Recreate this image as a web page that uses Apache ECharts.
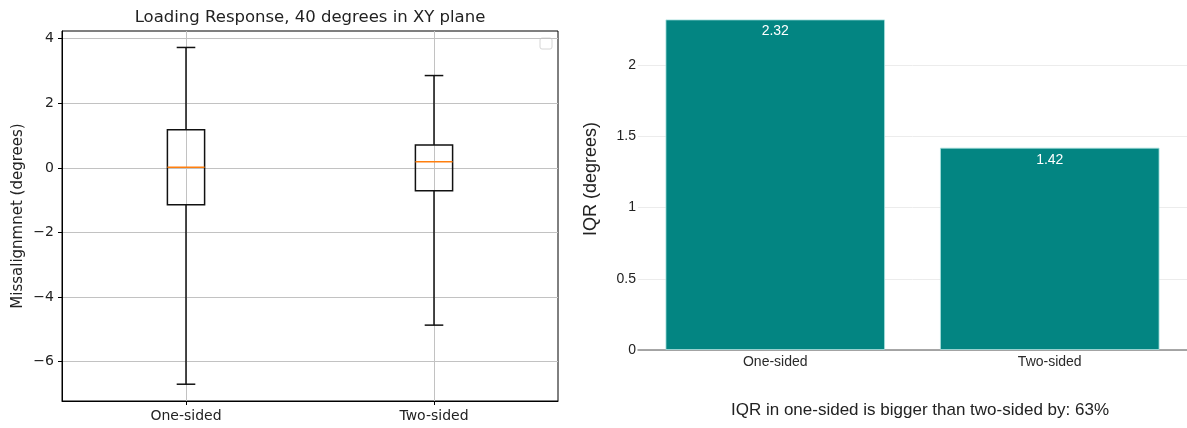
<!DOCTYPE html>
<html>
<head>
<meta charset="utf-8">
<style>
  html, body { margin: 0; padding: 0; background: #fff; }
  #chart { width: 1187px; height: 428px; }
</style>
<script src="https://cdn.jsdelivr.net/npm/echarts@6/dist/echarts.min.js"></script>
</head>
<body>
<div id="chart"></div>
<script>
// ---- data ----
const categories = ['One-sided', 'Two-sided'];
const boxPositions = [1, 2];
const whiskerLow = [-6.70, -4.87];
const quartile1 = [-1.14, -0.71];
const medians = [0.02, 0.19];
const quartile3 = [1.18, 0.71];
const whiskerHigh = [3.73, 2.86];
const leftYTicks = [-6, -4, -2, 0, 2, 4];

const iqrValues = [2.32, 1.42];
const rightYTicks = [0, 0.5, 1, 1.5, 2];

const leftTitle = 'Loading Response, 40 degrees in XY plane';
const leftYName = 'Missalignmnet (degrees)';
const rightYName = 'IQR (degrees)';
const footnote = 'IQR in one-sided is bigger than two-sided by: 63%';

// ---- build ----
const boxData = categories.map((c, i) => [boxPositions[i], whiskerLow[i], quartile1[i], medians[i], quartile3[i], whiskerHigh[i]]);
const MPL = 'DejaVu Sans';
const ARIAL = '"Liberation Sans", Arial, sans-serif';
const fmtMinus = v => (v < 0 ? '\u2212' + (-v) : String(v));

const chart = echarts.init(document.getElementById('chart'), null, { renderer: 'canvas' });

const option = {
  animation: false,
  backgroundColor: '#fff',
  grid: [
    { left: 62, top: 31, width: 496, height: 370, show: true, borderColor: '#000', borderWidth: 1, backgroundColor: 'transparent' },
    { left: 638, top: 8, width: 555, height: 342 }
  ],
  xAxis: [
    {
      gridIndex: 0, type: 'value', min: 0.5, max: 2.5, minInterval: 1, maxInterval: 1,
      axisLine: { show: true, onZero: false, lineStyle: { color: '#000', width: 1 } },
      axisTick: { show: true, customValues: boxPositions, length: 4, lineStyle: { color: '#000' } },
      axisLabel: {
        customValues: boxPositions,
        formatter: v => { const k = boxPositions.indexOf(v); return k >= 0 ? categories[k] : ''; },
        margin: 8, fontSize: 14, color: '#222', fontFamily: MPL
      },
      splitLine: { show: true, lineStyle: { color: '#c2c2c2', width: 1 } }
    },
    {
      gridIndex: 1, type: 'category', data: categories,
      axisLine: { show: true, lineStyle: { color: '#8a8a8a', width: 1.5 } },
      axisTick: { show: false },
      axisLabel: { margin: 5, fontSize: 14, color: '#2a2a2a', fontFamily: ARIAL },
      splitLine: { show: false }
    }
  ],
  yAxis: [
    {
      gridIndex: 0, type: 'value', min: -7.22, max: 4.24, minInterval: 2, maxInterval: 2,
      axisLine: { show: true, onZero: false, lineStyle: { color: '#000', width: 1 } },
      axisTick: { show: true, customValues: leftYTicks, length: 4, lineStyle: { color: '#000' } },
      axisLabel: { customValues: leftYTicks, formatter: fmtMinus, margin: 8, fontSize: 14, color: '#222', fontFamily: MPL },
      splitLine: { show: true, lineStyle: { color: '#c2c2c2', width: 1 } },
      name: leftYName, nameLocation: 'middle', nameGap: 36,
      nameTextStyle: { fontSize: 15, color: '#222', fontFamily: MPL }
    },
    {
      gridIndex: 1, type: 'value', min: 0, max: 2.4, interval: 0.5,
      axisLine: { show: false }, axisTick: { show: false },
      axisLabel: {
        showMaxLabel: false, margin: 2, fontSize: 14, color: '#222', fontFamily: ARIAL,
        formatter: v => (rightYTicks.indexOf(v) >= 0 ? String(v) : '')
      },
      splitLine: { show: true, showMaxLine: false, lineStyle: { color: '#ececec', width: 1 } },
      name: rightYName, nameLocation: 'middle', nameGap: 38,
      nameTextStyle: { fontSize: 18, color: '#222', fontFamily: ARIAL }
    }
  ],
  series: [
    {
      type: 'custom', xAxisIndex: 0, yAxisIndex: 0, data: boxData,
      encode: { x: 0, y: [1, 2, 3, 4, 5] },
      renderItem: function (params, api) {
        const x = api.value(0);
        const lo = api.coord([x, api.value(1)]);
        const q1 = api.coord([x, api.value(2)]);
        const md = api.coord([x, api.value(3)]);
        const q3 = api.coord([x, api.value(4)]);
        const hi = api.coord([x, api.value(5)]);
        const bw = api.size([0.15, 0])[0];
        const cx = lo[0];
        const st = { stroke: '#111', lineWidth: 1.5, fill: null };
        return {
          type: 'group',
          children: [
            { type: 'line', shape: { x1: cx, y1: q3[1], x2: cx, y2: hi[1] }, style: st },
            { type: 'line', shape: { x1: cx, y1: q1[1], x2: cx, y2: lo[1] }, style: st },
            { type: 'line', shape: { x1: cx - bw / 4, y1: hi[1], x2: cx + bw / 4, y2: hi[1] }, style: st },
            { type: 'line', shape: { x1: cx - bw / 4, y1: lo[1], x2: cx + bw / 4, y2: lo[1] }, style: st },
            { type: 'rect', shape: { x: cx - bw / 2, y: q3[1], width: bw, height: q1[1] - q3[1] }, style: { stroke: '#111', lineWidth: 1.5, fill: 'rgba(0,0,0,0)' } },
            { type: 'line', shape: { x1: cx - bw / 2, y1: md[1], x2: cx + bw / 2, y2: md[1] }, style: { stroke: '#ff7f0e', lineWidth: 1.5 } }
          ]
        };
      }
    },
    {
      type: 'bar', xAxisIndex: 1, yAxisIndex: 1, data: iqrValues,
      barCategoryGap: '20%',
      itemStyle: { color: '#038582', borderColor: 'rgba(170,225,222,0.8)', borderWidth: 1 },
      label: {
        show: true, position: 'insideTop', distance: 5, color: '#fff', fontSize: 14, fontFamily: ARIAL,
        formatter: p => p.value.toFixed(2)
      }
    }
  ],
  graphic: [
    { type: 'text', x: 310, y: 18, style: { text: leftTitle, textAlign: 'center', textVerticalAlign: 'middle', fontSize: 16.5, fontFamily: MPL, fill: '#222' } },
    { type: 'text', x: 920, y: 410, style: { text: footnote, textAlign: 'center', textVerticalAlign: 'middle', fontSize: 17, fontFamily: ARIAL, fill: '#222' } },
    { type: 'rect', shape: { x: 540, y: 38, width: 12, height: 11, r: 2 }, style: { fill: '#fff', stroke: '#d6d6d6', lineWidth: 1 } }
  ]
};

chart.setOption(option);
</script>
</body>
</html>
